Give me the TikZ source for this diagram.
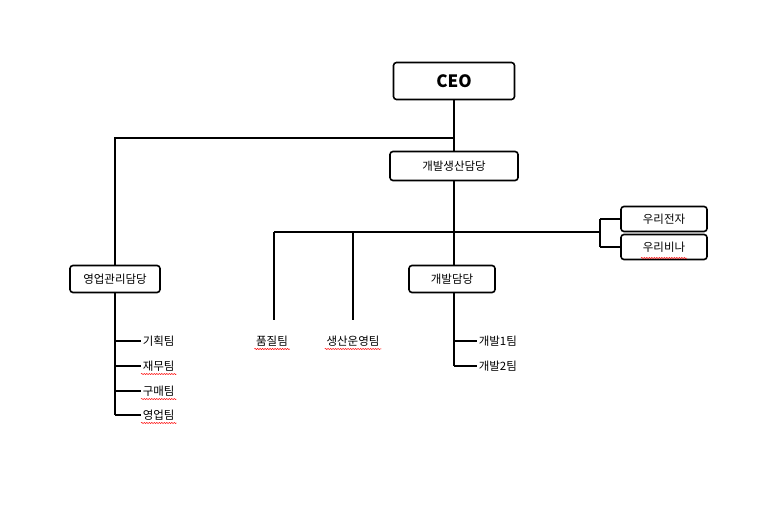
\documentclass[tikz,border=0pt]{standalone}
\usepackage{fontspec}
\setmainfont{Noto Sans CJK KR}
\usetikzlibrary{decorations.pathmorphing}

\begin{document}
\begin{tikzpicture}[x=1pt,y=-1pt,line width=1.6pt,
  box node/.style={rectangle,rounded corners=3pt,draw,fill=white,inner sep=0pt,font=\fontsize{11.5}{13}\selectfont},
  team node/.style={anchor=west,inner sep=1pt,font=\fontsize{11.5}{13}\selectfont},
  squiggle/.style={draw=red,line width=0.5pt,decorate,decoration={snake,amplitude=0.6pt,segment length=2.5pt}}]

  \useasboundingbox (0,0) rectangle (782,508);

  \node[box node,minimum width=121pt,minimum height=37pt,font=\fontsize{17}{20}\bfseries] (ceo) at (454,81) {CEO};
  \node[box node,minimum width=128pt,minimum height=29pt] (dev) at (454,166) {개발생산담당};
  \node[box node,minimum width=90pt,minimum height=27pt] (sales) at (115,279) {영업관리담당};
  \node[box node,minimum width=86pt,minimum height=27pt] (devmgr) at (452,279) {개발담당};
  \node[box node,minimum width=86pt,minimum height=25pt] (woori1) at (664,219) {우리전자};
  \node[box node,minimum width=86pt,minimum height=25pt] (woori2) at (664,247) {우리비나};

  \node[anchor=center,inner sep=1pt,font=\fontsize{11.5}{13}\selectfont] (qual) at (272,341) {품질팀};
  \node[anchor=center,inner sep=1pt,font=\fontsize{11.5}{13}\selectfont] (prod) at (353,341) {생산운영팀};

  \node[team node] (t1) at (141,341) {기획팀};
  \node[team node] (t2) at (141,366) {재무팀};
  \node[team node] (t3) at (141,391) {구매팀};
  \node[team node] (t4) at (141,415) {영업팀};
  \node[team node] (d1) at (477,341) {개발1팀};
  \node[team node] (d2) at (477,366) {개발2팀};

  \coordinate (split) at (454,138);
  \coordinate (bus) at (454,232);
  \coordinate (brk) at (600,232);

  % CEO branches
  \draw (ceo) -- (dev);
  \draw (split) -| (sales);
  \draw (dev) -- (devmgr.north -| dev);
  \draw (274,232) -- (brk);
  \draw (274,232) -- (274,320);
  \draw (353,232) -- (353,320);
  \draw (600,219) -- (600,247);
  \draw (600,219) -- (woori1.west);
  \draw (600,247) -- (woori2.west);

  % sales teams
  \draw (sales) -- (115,415);
  \foreach \t in {t1,t2,t3,t4}
    \draw (\t.west -| sales) -- (\t.west);

  % dev teams
  \draw (devmgr.south -| dev) -- (454,366);
  \foreach \t in {d1,d2}
    \draw (\t.west -| dev) -- (\t.west);

  % spell check marks
  \foreach \n in {qual,prod,t2,t3,t4}
    \path[squiggle] ([yshift=-1pt]\n.south west) -- ([yshift=-1pt]\n.south east);
  \path[squiggle] ([shift={(-23,11)}]woori2.center) -- ([shift={(23,11)}]woori2.center);

\end{tikzpicture}
\end{document}
